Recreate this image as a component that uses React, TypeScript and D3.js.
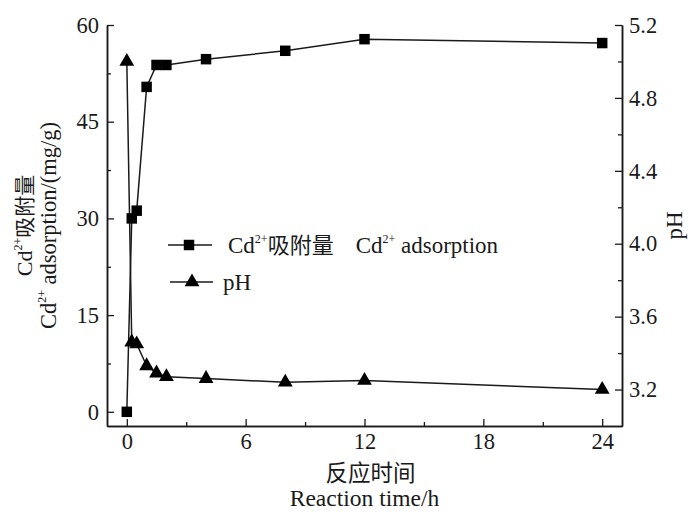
import React, { useEffect, useRef } from 'react';
import * as d3 from 'd3';

// reaction time (h)
const times = [0, 0.25, 0.5, 1, 1.5, 2, 4, 8, 12, 24];
// Cd2+ adsorption (mg/g)
const adsorption = [0, 30, 31.2, 50.4, 53.8, 53.8, 54.7, 56.0, 57.8, 57.2];
// solution pH
const phValues = [5.0, 3.46, 3.45, 3.33, 3.29, 3.27, 3.26, 3.24, 3.25, 3.2];

const xTicks = [0, 6, 12, 18, 24];
const xMinor = [3, 9, 15, 21];
const leftTicks = [0, 15, 30, 45, 60];
const leftMinor = [7.5, 22.5, 37.5, 52.5];
const rightTicks = [3.2, 3.6, 4.0, 4.4, 4.8, 5.2];
const rightMinor = [3.4, 3.8, 4.2, 4.6, 5.0];

const W = 700;
const H = 524;
const SERIF = 'Liberation Serif, Times New Roman, DejaVu Serif, serif';
const CJK = 'Noto Sans CJK SC, sans-serif';
const INK = '#1a1a1a';

const App = () => {
  const svgRef = useRef<SVGSVGElement | null>(null);

  useEffect(() => {
    const svg = d3.select(svgRef.current);
    svg.selectAll('*').remove();

    const plot = { left: 107, right: 622, top: 25, bottom: 426 };

    const x = d3.scaleLinear().domain([-1, 25]).range([plot.left, plot.right]);
    const yL = d3.scaleLinear().domain([-2.2, 60]).range([plot.bottom, plot.top]);
    const yR = d3.scaleLinear().domain([3.0, 5.2]).range([plot.bottom, plot.top]);

    const g = svg.append('g').style('font-family', SERIF).attr('fill', INK);

    const style = (sel: any) => {
      sel.attr('font-family', null).attr('font-size', null);
      sel.select('.domain').attr('stroke', INK).attr('stroke-width', 1.5);
      sel.selectAll('.tick line').attr('stroke', INK).attr('stroke-width', 1.3);
      sel.selectAll('.tick text').attr('fill', INK).style('font-size', '22.5px').style('font-family', SERIF);
    };

    // minor ticks first, majors on top
    g.append('g')
      .attr('transform', `translate(0,${plot.bottom})`)
      .call(d3.axisBottom(x).tickValues(xMinor).tickSize(-4).tickSizeOuter(0).tickFormat(() => ''))
      .call(style);
    g.append('g')
      .attr('transform', `translate(${plot.left},0)`)
      .call(d3.axisLeft(yL).tickValues(leftMinor).tickSize(-4).tickSizeOuter(0).tickFormat(() => ''))
      .call(style);
    g.append('g')
      .attr('transform', `translate(${plot.right},0)`)
      .call(d3.axisRight(yR).tickValues(rightMinor).tickSize(-4).tickSizeOuter(0).tickFormat(() => ''))
      .call(style);

    g.append('g')
      .attr('transform', `translate(0,${plot.bottom})`)
      .call(d3.axisBottom(x).tickValues(xTicks).tickSize(-7).tickSizeOuter(0).tickPadding(7).tickFormat(d3.format('d')))
      .call(style);
    g.append('g')
      .attr('transform', `translate(${plot.left},0)`)
      .call(d3.axisLeft(yL).tickValues(leftTicks).tickSize(-7).tickSizeOuter(0).tickPadding(8).tickFormat(d3.format('d')))
      .call(style);
    g.append('g')
      .attr('transform', `translate(${plot.right},0)`)
      .call(d3.axisRight(yR).tickValues(rightTicks).tickSize(-7).tickSizeOuter(0).tickPadding(7).tickFormat(d3.format('.1f')))
      .call(style);

    // series lines
    const idx = d3.range(times.length);
    const lineL = d3.line<number>().x(i => x(times[i])).y(i => yL(adsorption[i]));
    const lineR = d3.line<number>().x(i => x(times[i])).y(i => yR(phValues[i]));

    g.append('path').attr('d', lineL(idx)).attr('fill', 'none').attr('stroke', INK).attr('stroke-width', 1.5);
    g.append('path').attr('d', lineR(idx)).attr('fill', 'none').attr('stroke', INK).attr('stroke-width', 1.5);

    const square = d3.symbol().type(d3.symbolSquare).size(110);
    const triangle = d3.symbol().type(d3.symbolTriangle).size(95);

    g.selectAll('path.sq')
      .data(idx)
      .enter()
      .append('path')
      .attr('class', 'sq')
      .attr('d', square())
      .attr('transform', i => `translate(${x(times[i])},${yL(adsorption[i])})`)
      .attr('fill', '#000');

    g.selectAll('path.tri')
      .data(idx)
      .enter()
      .append('path')
      .attr('class', 'tri')
      .attr('d', triangle())
      .attr('transform', i => `translate(${x(times[i])},${yR(phValues[i])})`)
      .attr('fill', '#000');

    // Cd2+ with superscript
    const cd = (t: any, dx = 0) => {
      t.append('tspan').attr('dx', dx).text('Cd');
      t.append('tspan').style('font-size', '12px').attr('dy', -10).text('2+');
    };

    // legend
    const leg = g.append('g');
    leg.append('line').attr('x1', 168).attr('x2', 212).attr('y1', 245).attr('y2', 245).attr('stroke', INK).attr('stroke-width', 1.5);
    leg.append('path').attr('d', square()).attr('transform', 'translate(189,245)').attr('fill', '#000');
    const t1 = leg.append('text').attr('x', 228).attr('y', 253).style('font-size', '23px');
    cd(t1);
    t1.append('tspan').attr('dy', 10).style('font-family', CJK).style('font-size', '22px').text('吸附量');
    cd(t1, 22);
    t1.append('tspan').attr('dy', 10).text(' adsorption');

    leg.append('line').attr('x1', 170).attr('x2', 213).attr('y1', 282).attr('y2', 282).attr('stroke', INK).attr('stroke-width', 1.5);
    leg.append('path').attr('d', triangle()).attr('transform', 'translate(192,282)').attr('fill', '#000');
    leg.append('text').attr('x', 223).attr('y', 290).style('font-size', '23px').text('pH');

    // axis titles
    const cy = (plot.top + plot.bottom) / 2;
    const l1 = g.append('text')
      .attr('transform', `translate(32,${cy}) rotate(-90)`)
      .attr('text-anchor', 'middle')
      .style('font-size', '22px');
    cd(l1);
    l1.append('tspan').attr('dy', 10).style('font-family', CJK).style('font-size', '21px').text('吸附量');

    const l2 = g.append('text')
      .attr('transform', `translate(56,${cy}) rotate(-90)`)
      .attr('text-anchor', 'middle')
      .style('font-size', '22.5px');
    cd(l2);
    l2.append('tspan').attr('dy', 10).text(' adsorption/(mg/g)');

    g.append('text')
      .attr('transform', `translate(682,${cy}) rotate(-90)`)
      .attr('text-anchor', 'middle')
      .style('font-size', '23px')
      .text('pH');

    const cx = (plot.left + plot.right) / 2;
    g.append('text')
      .attr('x', cx + 6)
      .attr('y', 481)
      .attr('text-anchor', 'middle')
      .style('font-family', CJK)
      .style('font-size', '22.5px')
      .text('反应时间');
    g.append('text').attr('x', cx).attr('y', 506).attr('text-anchor', 'middle').style('font-size', '23.5px').text('Reaction time/h');
  }, []);

  return (
    <svg
      ref={svgRef}
      width={W}
      height={H}
      viewBox={`0 0 ${W} ${H}`}
      style={{ position: 'absolute', left: 0, top: 0, background: '#fff' }}
    ></svg>
  );
};

export default App;
